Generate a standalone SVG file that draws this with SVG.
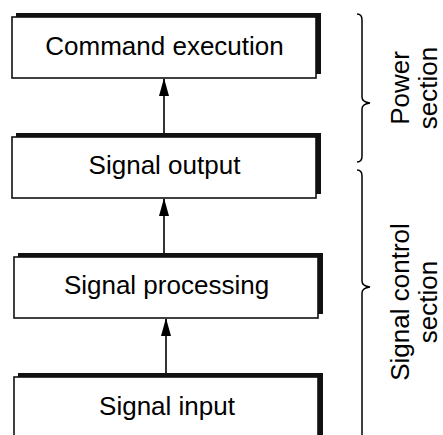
<svg xmlns="http://www.w3.org/2000/svg" width="443" height="435" viewBox="0 0 443 435">
  <defs>
    <marker id="arrowhead" markerUnits="userSpaceOnUse" markerWidth="18" markerHeight="10" refX="17" refY="5" orient="auto" viewBox="0 0 18 10">
      <path d="M0,0 L18,5 L0,10 Z" fill="#000"/>
    </marker>
  </defs>
  <style>
    .shadow { fill: #111; }
    .box { fill: #fff; stroke: #111; stroke-width: 1.6; }
    .label { font-family: "Liberation Sans", Arial, sans-serif; font-size: 26px; fill: #000; text-anchor: middle; }
    .link { stroke: #000; stroke-width: 1.6; fill: none; marker-end: url(#arrowhead); }
    .brace { stroke: #000; stroke-width: 1.5; fill: none; }
  </style>
  <rect width="443" height="435" fill="#fff"/>

  <g id="command-execution">
    <rect class="shadow" x="16" y="13" width="305" height="61"/>
    <rect class="box" x="12" y="17" width="304" height="61"/>
    <text class="label" x="164.5" y="55">Command execution</text>
  </g>

  <g id="signal-output">
    <rect class="shadow" x="16" y="133" width="305" height="61"/>
    <rect class="box" x="12" y="137" width="304" height="61"/>
    <text class="label" x="164.5" y="174">Signal output</text>
  </g>

  <g id="signal-processing">
    <rect class="shadow" x="18" y="253" width="305" height="61"/>
    <rect class="box" x="14" y="257" width="304" height="61"/>
    <text class="label" x="166.5" y="294">Signal processing</text>
  </g>

  <g id="signal-input">
    <rect class="shadow" x="18" y="373" width="305" height="70"/>
    <rect class="box" x="14" y="377" width="304" height="70"/>
    <text class="label" x="167" y="415">Signal input</text>
  </g>

  <g id="connectors">
    <line class="link" x1="164" y1="133" x2="164" y2="79"/>
    <line class="link" x1="164" y1="253" x2="164" y2="199"/>
    <line class="link" x1="166" y1="373" x2="166" y2="319"/>
  </g>

  <g id="power-section">
    <path class="brace" d="M357,14 Q362,14 362,20 L362,97 Q362,102 370,103 Q362,104 362,109 L362,156 Q362,162 357,162"/>
    <text class="label" transform="translate(409,88) rotate(-90)">Power</text>
    <text class="label" transform="translate(437,88) rotate(-90)">section</text>
  </g>

  <g id="signal-control-section">
    <path class="brace" d="M357,170 Q362,170 362,176 L362,281 Q362,286 370,287 Q362,288 362,293 L362,440"/>
    <text class="label" transform="translate(409,302) rotate(-90)">Signal control</text>
    <text class="label" transform="translate(437,302) rotate(-90)">section</text>
  </g>
</svg>
